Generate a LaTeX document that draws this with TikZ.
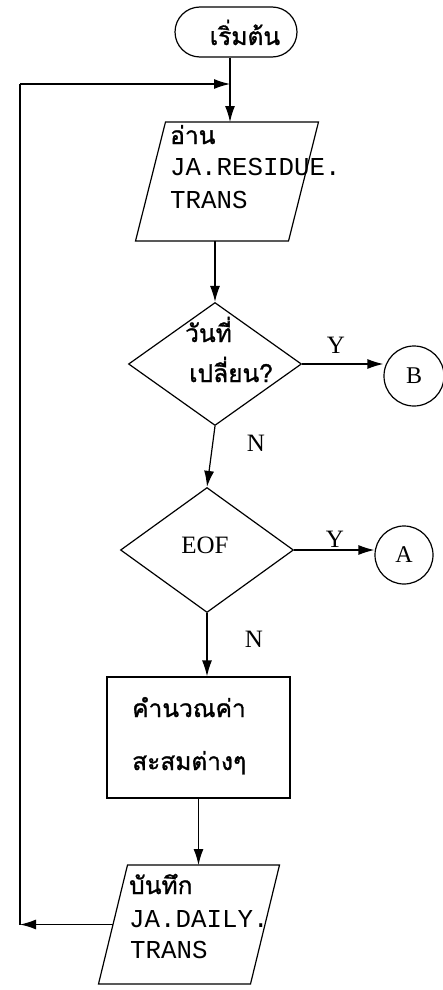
\documentclass[tikz,border=0pt]{standalone}
\usepackage{fontspec}
\setmainfont{Liberation Serif}
\newfontfamily\thaifont[Script=Thai,FakeBold=1.2]{Loma}
\newfontfamily\monofont{Liberation Mono}
\usetikzlibrary{shapes.geometric,shapes.misc,arrows.meta}
\begin{document}
\begin{tikzpicture}[x=1pt,y=-1pt,
  line/.style={line width=1.2pt},
  arr/.style={line, -{Latex[length=16pt,width=10pt]}},
  shapebox/.style={draw=none, inner sep=0pt, outer sep=0pt},
  th/.style={font=\thaifont\fontsize{24.5}{28}\selectfont, inner sep=0pt, anchor=base west, text depth=0pt},
  mo/.style={font=\monofont\fontsize{25.8}{30}\selectfont, inner sep=0pt, anchor=base west, text height=15pt, text depth=0pt},
  lbl/.style={font=\fontsize{25}{28}\selectfont, inner sep=0pt, anchor=base},
  conn/.style={circle, draw, line, inner sep=0pt, font=\fontsize{24}{28}\selectfont},
]
\useasboundingbox (0,0) rectangle (443,990);

% start terminator
\node[draw, line, rounded rectangle, minimum width=122pt, minimum height=50pt, inner sep=0pt] (start) at (236,32) {};
\node[th, anchor=base] (starttxt) at (245,45) {เริ่มต้น};
\coordinate (axis) at ([xshift=-6pt]start.south);

% read parallelogram
\node[shapebox, minimum width=153pt, minimum height=119pt] (read) at (227,181.5) {};
\draw[line] ([xshift=15pt]read.north west) -- ([xshift=15pt]read.north east)
  -- ([xshift=-15pt]read.south east) -- ([xshift=-15pt]read.south west) -- cycle;
\node[th] (r1) at (170,144) {อ่าน};
\node[mo] (r2) at (170,175) {JA.RESIDUE.};
\node[mo] (r3) at (170,208) {TRANS};

% decision 1
\node[diamond, draw, line, minimum width=173pt, minimum height=123pt, inner sep=0pt] (d1) at (215,364) {};
\node[th] (q1) at (185,342) {วันที่};
\node[th] (q2) at (189,382) {เปลี่ยน?};
\node[conn, minimum size=60pt] (B) at (414,376) {B};
\node[lbl] (y1) at (336,353) {Y};
\node[lbl] (n1) at (256,451) {N};

% decision 2
\node[diamond, draw, line, minimum width=173pt, minimum height=125pt, inner sep=0pt] (d2) at (207,550) {};
\node[lbl] (eof) at (205,553) {EOF};
\node[conn, minimum size=58pt] (A) at (404,555) {A};
\node[lbl] (y2) at (335,547) {Y};
\node[lbl] (n2) at (254,647) {N};

% process
\node[draw, line, minimum width=183pt, minimum height=121pt, inner sep=0pt] (calc) at (198.5,737.5) {};
\node[th] (c1) at (132,717) {คำนวณค่า};
\node[th] (c2) at (132,770) {สะสมต่างๆ};

% save parallelogram
\node[shapebox, minimum width=152pt, minimum height=119pt] (save) at (189,924.5) {};
\draw[line] ([xshift=14.5pt]save.north west) -- ([xshift=14.5pt]save.north east)
  -- ([xshift=-14.5pt]save.south east) -- ([xshift=-14.5pt]save.south west) -- cycle;
\node[th] (s1) at (129,894) {บันทึก};
\node[mo] (s2) at (129,927) {JA.DAILY.};
\node[mo] (s3) at (130,958) {TRANS};

% connectors
\draw[arr] (axis) -- (axis |- read.north);
\draw[arr] (d1.north |- read.south) -- (d1.north);
\draw[arr] (d1.east) -- (d1.east -| B.west);
\draw[arr] (d1.south) -- (d2.north);
\draw[arr] (d2.east) -- (d2.east -| A.west);
\draw[arr] (d2.south) -- (d2.south |- calc.north);
\draw[arr] (calc.south) -- (calc.south |- save.north);

% loop back
\coordinate (lb) at (20,924.5);
\coordinate (lt) at (20,84);
\draw[arr] (save.west) -- (lb);
\draw[line] (lb) -- (lt);
\draw[arr] (lt) -- (lt -| axis);
\end{tikzpicture}
\end{document}
